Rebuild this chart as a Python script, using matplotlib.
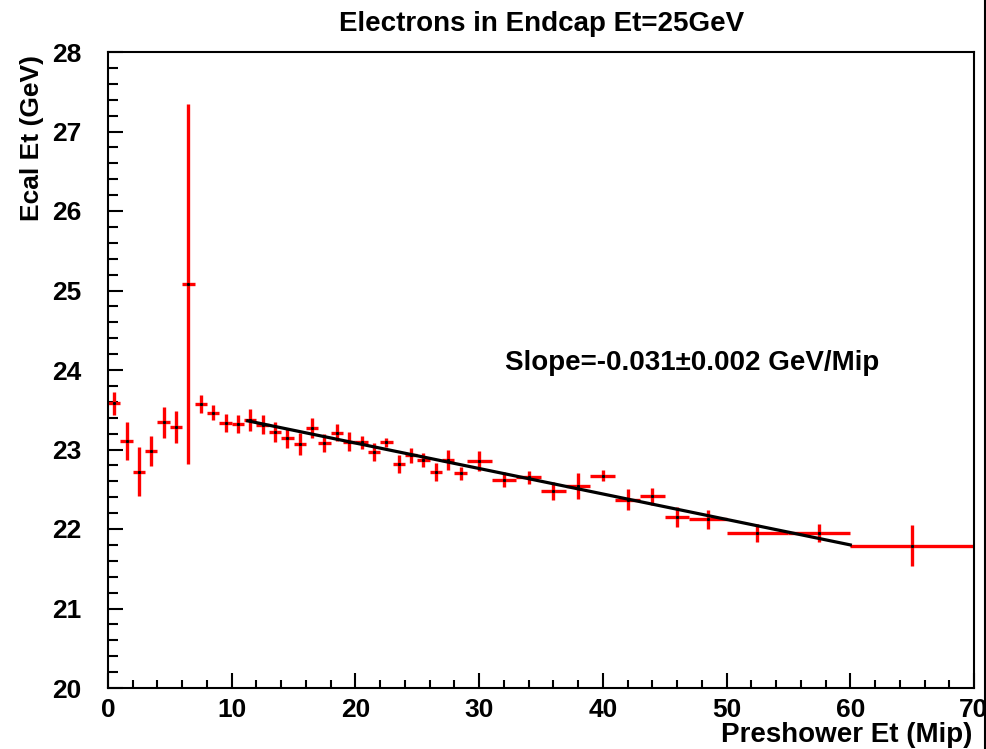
import matplotlib
matplotlib.use("Agg")
import matplotlib.pyplot as plt
from matplotlib.ticker import MultipleLocator
from matplotlib.lines import Line2D

plt.rcParams['font.family'] = ['Liberation Sans', 'DejaVu Sans']
plt.rcParams['font.weight'] = 'bold'

# ---- data ----
x_center = [0.5, 1.5, 2.5, 3.5, 4.5, 5.5, 6.5, 7.5, 8.5, 9.5,
            10.5, 11.5, 12.5, 13.5, 14.5, 15.5, 16.5, 17.5, 18.5, 19.5,
            20.5, 21.5, 22.5, 23.5, 24.5, 25.5, 26.5, 27.5, 28.5,
            30, 32, 34, 36, 38, 40, 42, 44, 46,
            48.5, 52.5, 57.5, 65]
x_halfwidth = [0.5, 0.5, 0.5, 0.5, 0.5, 0.5, 0.5, 0.5, 0.5, 0.5,
               0.5, 0.5, 0.5, 0.5, 0.5, 0.5, 0.5, 0.5, 0.5, 0.5,
               0.5, 0.5, 0.5, 0.5, 0.5, 0.5, 0.5, 0.5, 0.5,
               1, 1, 1, 1, 1, 1, 1, 1, 1,
               1.5, 2.5, 2.5, 5]
ecal_et = [23.58, 23.11, 22.72, 22.98, 23.34, 23.28, 25.08, 23.57, 23.46, 23.33,
           23.32, 23.37, 23.31, 23.22, 23.15, 23.07, 23.27, 23.08, 23.21, 23.10,
           23.09, 22.97, 23.09, 22.82, 22.93, 22.87, 22.72, 22.87, 22.70,
           22.85, 22.62, 22.65, 22.48, 22.54, 22.67, 22.37, 22.41, 22.15,
           22.12, 21.95, 21.95, 21.79]
ecal_err = [0.145, 0.24, 0.31, 0.19, 0.20, 0.20, 2.26, 0.11, 0.095, 0.115,
            0.115, 0.14, 0.12, 0.12, 0.125, 0.135, 0.12, 0.11, 0.105, 0.12,
            0.085, 0.11, 0.055, 0.11, 0.095, 0.09, 0.115, 0.125, 0.085,
            0.125, 0.095, 0.08, 0.115, 0.165, 0.07, 0.13, 0.105, 0.125,
            0.115, 0.11, 0.11, 0.26]

fit_x = [11.3, 60.0]
fit_y = [23.36, 21.80]

title = "Electrons in Endcap Et=25GeV"
xlabel = "Preshower Et (Mip)"
ylabel = "Ecal Et (GeV)"
fit_text = "Slope=-0.031\u00b10.002 GeV/Mip"

W, H = 987, 749
fig = plt.figure(figsize=(W / 100, H / 100), dpi=100)
ax = fig.add_axes([108 / W, 1 - 688 / H, (974 - 108) / W, (688 - 52) / H])

ax.errorbar(x_center, ecal_et, xerr=x_halfwidth, yerr=ecal_err, fmt='none',
            ecolor='#ff0000', elinewidth=2.4, capsize=0, zorder=2)
ax.plot(x_center, ecal_et, ls='none', marker='s', ms=1.2, color='black', zorder=3)
ax.plot(fit_x, fit_y, color='black', lw=2.3, zorder=4)

ax.set_xlim(0, 70)
ax.set_ylim(20, 28)
ax.xaxis.set_major_locator(MultipleLocator(10))
ax.xaxis.set_minor_locator(MultipleLocator(2))
ax.yaxis.set_major_locator(MultipleLocator(1))
ax.yaxis.set_minor_locator(MultipleLocator(0.2))

for s in ax.spines.values():
    s.set_linewidth(1.5)
ax.tick_params(axis='both', which='both', direction='in', top=False, right=False,
               width=1.5)
ax.tick_params(axis='x', which='major', length=11, pad=7, labelsize=19)
ax.tick_params(axis='x', which='minor', length=6)
ax.tick_params(axis='y', which='major', length=11, pad=19, labelsize=19)
ax.tick_params(axis='y', which='minor', length=7)
for lab in ax.get_xticklabels() + ax.get_yticklabels():
    lab.set_fontweight('bold')

fig.text(542 / W, 1 - 24 / H, title, ha='center', va='center',
         fontsize=20, fontweight='bold')
fig.text(505 / W, 1 - 370 / H, fit_text, ha='left', va='baseline',
         fontsize=20, fontweight='bold')
fig.text(972 / W, 1 - 742 / H, xlabel, ha='right', va='baseline',
         fontsize=20, fontweight='bold')
fig.text(32 / W, 1 - 55 / H, ylabel, ha='center', va='top', rotation=90,
         fontsize=19, fontweight='bold')

# canvas border line at right edge
fig.add_artist(Line2D([985.5 / W, 985.5 / W], [0, 1], color='black', lw=1.5,
                      transform=fig.transFigure))

fig.savefig("out.png", dpi=100)
